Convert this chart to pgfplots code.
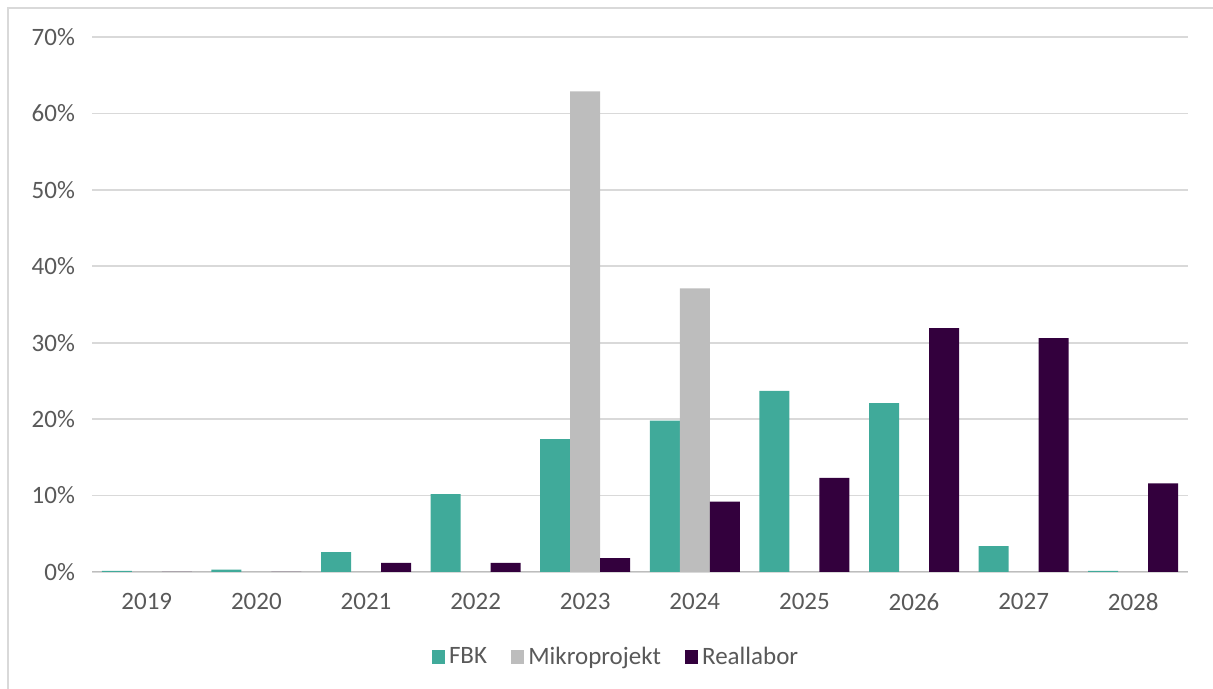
\documentclass[border=0pt]{standalone}
\usepackage{fontspec}
\setmainfont{Carlito}
\usepackage{pgfplots}
\pgfplotsset{compat=1.18}

\definecolor{fbk}{HTML}{40AA9A}
\definecolor{mikro}{HTML}{BDBDBD}
\definecolor{real}{HTML}{33003D}
\definecolor{txt}{HTML}{595959}
\definecolor{gridgray}{HTML}{D9D9D9}

\begin{document}
\begin{tikzpicture}
  % page = 1213 x 689 px, 1 px = 0.5pt
  \path[use as bounding box] (0pt,0pt) rectangle (606.5pt,344.5pt);
  \draw[gridgray, line width=0.8pt] (4pt,0pt) -- (4pt,340.5pt) -- (606.5pt,340.5pt);
  \begin{axis}[
    at={(46pt,58.5pt)}, anchor=south west,
    scale only axis,
    width=548pt, height=267.5pt,
    ybar=0pt, bar width=15pt,
    xmin=-0.5, xmax=9.5,
    ymin=0, ymax=70,
    ytick={0,10,...,70},
    yticklabel={\pgfmathprintnumber{\tick}\%},
    xtick=data,
    xticklabels={2019,2020,2021,2022,2023,2024,2025,2026,2027,2028},
    /pgf/number format/assume math mode=true,
    tick style={draw=none},
    axis line style={draw=none},
    ymajorgrids, grid style={draw=gridgray, line width=0.8pt},
    ticklabel style={font=\fontsize{12.5}{14}\selectfont, text=txt},
    yticklabel style={xshift=-5pt},
    xticklabel style={yshift=-3pt},
    legend style={at={(0.479,-0.159)}, anchor=center, draw=none,
      font=\fontsize{12.5}{14}\selectfont, text=txt,
      legend columns=-1,
      /tikz/every even column/.append style={column sep=10pt}},
    legend image code/.code={\fill[#1] (0,-3.3pt) rectangle (6.6pt,3.3pt);},
  ]
  \draw[mikro, line width=0.8pt] (axis cs:-0.5,0) -- (axis cs:9.5,0);
  \addplot[fill=fbk, draw=none] coordinates {
    (0,0.15) (1,0.3) (2,2.6) (3,10.2) (4,17.4) (5,19.8) (6,23.7) (7,22.1) (8,3.4) (9,0.15)};
  \addplot[fill=mikro, draw=none] coordinates {
    (0,0) (1,0) (2,0) (3,0) (4,62.9) (5,37.1) (6,0) (7,0) (8,0) (9,0)};
  \addplot[fill=real, draw=none] coordinates {
    (0,0) (1,0) (2,1.2) (3,1.2) (4,1.8) (5,9.2) (6,12.3) (7,31.9) (8,30.6) (9,11.6)};
  \legend{FBK, Mikroprojekt, Reallabor}
  \end{axis}
\end{tikzpicture}
\end{document}
